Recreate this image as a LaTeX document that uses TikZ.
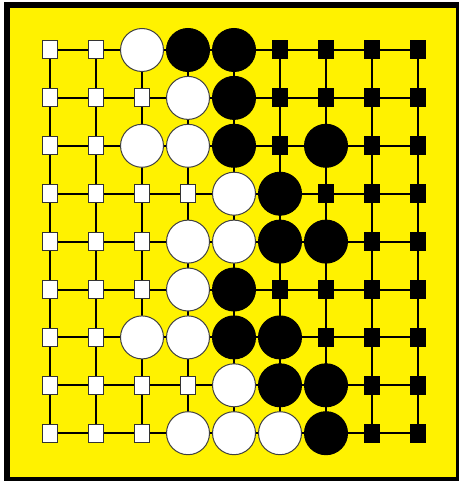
\documentclass[tikz,border=0pt]{standalone}
\usepackage{tikz}

\begin{document}
\begin{tikzpicture}[x=1pt, y=-1pt,
	every node/.style={inner sep=0pt, outer sep=0pt},
	sw/.style={circle, draw=black!75, line width=1pt, fill=white, minimum size=43pt},
	sb/.style={circle, draw=black, line width=1pt, fill=black, minimum size=43pt},
	pw/.style={rectangle, draw=black!80, line width=1pt, fill=white, minimum width=15pt, minimum height=18pt},
	pb/.style={rectangle, draw=black, line width=1pt, fill=black, minimum width=15pt, minimum height=18pt}]
	\useasboundingbox (0,0) rectangle (459,481);
	% board
	\fill[black] (4,2) rectangle (459,481);
	\fill[yellow] (10,8) rectangle (456,477);
	% grid points
	\foreach \c in {1,...,9}
		\foreach \r in {1,...,9}
			\coordinate (g-\c-\r) at ({50+46*(\c-1)},{50+47.9*(\r-1)});
	% lines
	\foreach \i in {1,...,9} {
		\draw[line width=2pt] (g-1-\i) -- (g-9-\i);
		\draw[line width=2pt] (g-\i-1) -- (g-\i-9);
	}
	% stones and territory
	\foreach \r/\row in {
		1/{pw,pw,sw,sb,sb,pb,pb,pb,pb},
		2/{pw,pw,pw,sw,sb,pb,pb,pb,pb},
		3/{pw,pw,sw,sw,sb,pb,sb,pb,pb},
		4/{pw,pw,pw,pw,sw,sb,pb,pb,pb},
		5/{pw,pw,pw,sw,sw,sb,sb,pb,pb},
		6/{pw,pw,pw,sw,sb,pb,pb,pb,pb},
		7/{pw,pw,sw,sw,sb,sb,pb,pb,pb},
		8/{pw,pw,pw,pw,sw,sb,sb,pb,pb},
		9/{pw,pw,pw,sw,sw,sw,sb,pb,pb}}
		\foreach \t [count=\c] in \row
			\node[\t] (n-\c-\r) at (g-\c-\r) {};
\end{tikzpicture}
\end{document}
